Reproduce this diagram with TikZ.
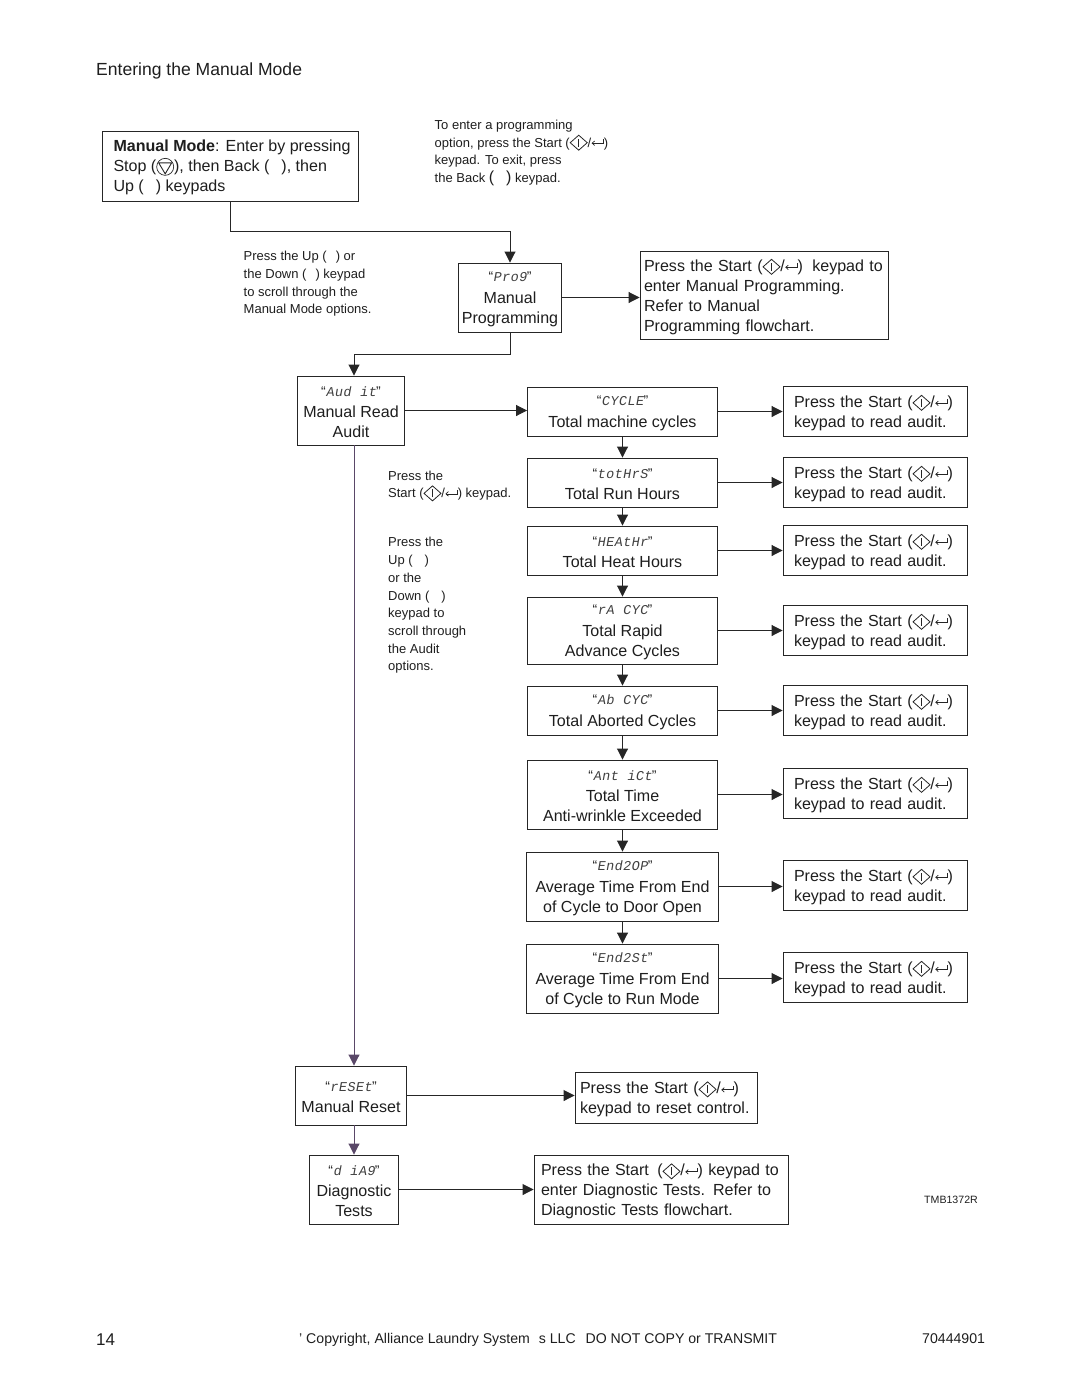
\documentclass[tikz,border=0pt]{standalone}
\usepackage{fontspec}
\setmainfont{Liberation Sans}
\newfontfamily\segfont[FakeSlant=0.18,LetterSpace=3]{Liberation Mono}
\usetikzlibrary{arrows.meta}

\definecolor{inkline}{HTML}{262626}
\definecolor{inktext}{HTML}{1E1E1E}
\definecolor{auditline}{HTML}{5A4868}

% keypad marks
\newcommand{\startkey}{\tikz[baseline=-4.5pt,line width=0.8pt,draw=inkline]{\draw (-8.5pt,0pt)--(0pt,7.5pt)--(8.5pt,0pt)--(0pt,-7.5pt)--cycle; \draw[line width=0.9pt] (0pt,-4pt)--(0pt,4pt);}}
\newcommand{\enterkey}{\tikz[baseline=0pt,line width=0.7pt,draw=inkline]{\draw[-{Straight Barb[length=2.5pt,width=4.5pt]}] (6pt,8pt)--(6pt,4pt)--(-6pt,4pt);}}
\newcommand{\stopkey}{\tikz[baseline=-5pt,line width=0.7pt,draw=inkline]{\draw (0pt,0pt) circle (8.5pt); \draw[line width=0.9pt] (-6.5pt,4pt)--(6.5pt,4pt)--(0pt,-7pt)--cycle;}}
% first lines of the boxes
\newcommand{\boxtop}{\rule{0pt}{16pt}}
\newcommand{\seg}[1]{\rule{0pt}{15pt}\raisebox{1.5pt}{\fontsize{14}{20}\selectfont “{\segfont\fontsize{13.5}{20}\selectfont\color{inktext!85}#1}”}}

\tikzset{
  flow/.style={-{Triangle[length=11pt,width=11pt]},line width=0.9pt,draw=inkline},
  elbow/.style={line width=0.9pt,draw=inkline},
  box/.style={draw=inkline,line width=0.9pt,text=inktext,align=center,inner sep=0pt,
    font=\fontsize{16.05}{20}\selectfont},
  keybox/.style={box,align=left},
  note/.style={anchor=west,align=left,inner sep=0pt,text=inktext,
    font=\fontsize{13}{17.7}\selectfont},
  page/.style={anchor=west,inner sep=0pt,text=inktext}
}

\begin{document}
\begin{tikzpicture}[x=1pt,y=-1pt]
  \useasboundingbox (0,0) rectangle (1080,1397);

  % heading and foot of the page
  \node[page,font=\fontsize{17.55}{20}\selectfont] (heading) at (96,71) {Entering the Manual Mode};
  \node[page,font=\fontsize{17}{20}\selectfont] (pageno) at (96,1340) {14};
  \node[page,font=\fontsize{14.12}{20}\selectfont] (copyright) at (299,1340) {' Copyright, Alliance Laundry System\hspace{5pt} s LLC\hspace{6pt} DO NOT COPY or TRANSMIT};
  \node[page,font=\fontsize{14.12}{20}\selectfont] (partno) at (922,1339) {70444901};
  \node[page,font=\fontsize{10.6}{20}\selectfont] (drawingno) at (924,1200) {TMB1372R};

  % entry into the mode
  \node[box,align=left,minimum width=256pt,minimum height=70pt] (manual) at (230.5,166.5) {\rule{0pt}{14pt}\hspace*{3pt}\textbf{Manual Mode}: Enter by pressing\\\hspace*{3pt}Stop (\stopkey), then Back (\hspace{12pt}), then\\\hspace*{3pt}Up (\hspace{12pt}) keypads};
  \node[note] (exitnote) at (434.5,153) {To enter a programming\\option, press the Start (\startkey/\enterkey)\\keypad. To exit, press\\the Back {\fontsize{16}{17}\selectfont(}\hspace{12pt}{\fontsize{16}{17}\selectfont)} keypad.};
  \node[note] (scrollnote) at (243.5,284) {Press the Up (\hspace{9pt}) or\\the Down (\hspace{9pt}) keypad\\to scroll through the\\Manual Mode options.};

  % programming
  \node[box,minimum width=103pt,minimum height=69pt] (prog) at (510,297.5) {\seg{Pro9}\\Manual\\Programming};
  \node[keybox,text width=240pt,inner xsep=4pt,minimum height=88pt] (progkey) at (764,295) {\boxtop Press the Start (\startkey/\enterkey)\hspace{4pt} keypad to\\enter Manual Programming.\\Refer to Manual\\Programming flowchart.};

  % audit options
  \node[box,minimum width=107pt,minimum height=69pt] (audit) at (351,410.5) {\seg{Aud it}\\Manual Read\\Audit};
  \node[note] (startnote) at (388,486) {Press the\\Start (\startkey/\enterkey) keypad.};
  \node[note] (upnote) at (388,605.5) {Press the\\Up (\hspace{12pt})\\or the\\Down (\hspace{12pt})\\keypad to\\scroll through\\the Audit\\options.};

  \node[box,minimum width=190pt,minimum height=49pt] (cycle) at (622.5,411.5) {\seg{CYCLE}\\Total machine cycles};
  \node[box,minimum width=190pt,minimum height=49pt] (tothrs) at (622.5,482.5) {\seg{totHrS}\\Total Run Hours};
  \node[box,minimum width=190pt,minimum height=49pt] (heathr) at (622.5,550.5) {\seg{HEAtHr}\\Total Heat Hours};
  \node[box,minimum width=190pt,minimum height=67pt] (racyc) at (622.5,630.5) {\seg{rA CYC}\\Total Rapid\\Advance Cycles};
  \node[box,minimum width=190pt,minimum height=49pt] (abcyc) at (622.5,710.5) {\seg{Ab CYC}\\Total Aborted Cycles};
  \node[box,minimum width=190pt,minimum height=69pt] (antict) at (622.5,794.5) {\seg{Ant iCt}\\Total Time\\Anti-wrinkle Exceeded};
  \node[box,minimum width=192pt,minimum height=69pt] (endop) at (622.5,886.5) {\seg{End2OP}\\Average Time From End\\of Cycle to Door Open};
  \node[box,minimum width=192pt,minimum height=69pt] (endst) at (622.5,978.5) {\seg{End2St}\\Average Time From End\\of Cycle to Run Mode};

  \foreach \opt/\ky in {cycle/411,tothrs/482,heathr/550,racyc/630,abcyc/710,antict/793,endop/885,endst/977}{
    \node[keybox,text width=162pt,inner xsep=11pt,minimum height=50pt] (\opt key) at (875,\ky) {\boxtop Press the Start (\startkey/\enterkey)\\keypad to read audit.};
    \draw[flow] (\opt.east) -- (\opt.east -| \opt key.west);
  }
  \foreach \a/\b in {cycle/tothrs,tothrs/heathr,heathr/racyc,racyc/abcyc,abcyc/antict,antict/endop,endop/endst}
    \draw[flow] (\a.south) -- (\b.north);

  % reset and diagnostics
  \node[box,minimum width=111pt,minimum height=59pt] (reset) at (351,1095.5) {\seg{rESEt}\\Manual Reset};
  \node[keybox,text width=172pt,inner xsep=5pt,minimum height=51pt] (resetkey) at (666,1097.5) {\boxtop Press the Start (\startkey/\enterkey)\\keypad to reset control.};
  \node[box,minimum width=89pt,minimum height=69pt] (diag) at (354,1189.5) {\seg{d iA9}\\Diagnostic\\Tests};
  \node[keybox,text width=240pt,inner xsep=7pt,minimum height=69pt] (diagkey) at (661,1189.5) {\boxtop Press the Start\hspace{3pt} (\startkey/\enterkey) keypad to\\enter Diagnostic Tests. Refer to\\Diagnostic Tests flowchart.};

  % connectors
  \coordinate (manualdrop) at (230,231);
  \coordinate (progdrop) at (354,354);
  \draw[elbow] (manual.south -| manualdrop) -- (manualdrop) -- (manualdrop -| prog.north);
  \draw[flow] (manualdrop -| prog.north) -- (prog.north);
  \draw[flow] (prog.east) -- (prog.east -| progkey.west);
  \draw[elbow] (prog.south) -- (prog.south |- progdrop) -- (progdrop);
  \draw[flow] (progdrop) -- (progdrop |- audit.north);
  \draw[flow] (audit.east) -- (audit.east -| cycle.west);
  \draw[flow,draw=auditline] (audit.south -| progdrop) -- (progdrop |- reset.north);
  \draw[flow] (reset.east) -- (reset.east -| resetkey.west);
  \draw[flow,draw=auditline] (reset.south -| diag.north) -- (diag.north);
  \draw[flow] (diag.east) -- (diag.east -| diagkey.west);
\end{tikzpicture}
\end{document}
